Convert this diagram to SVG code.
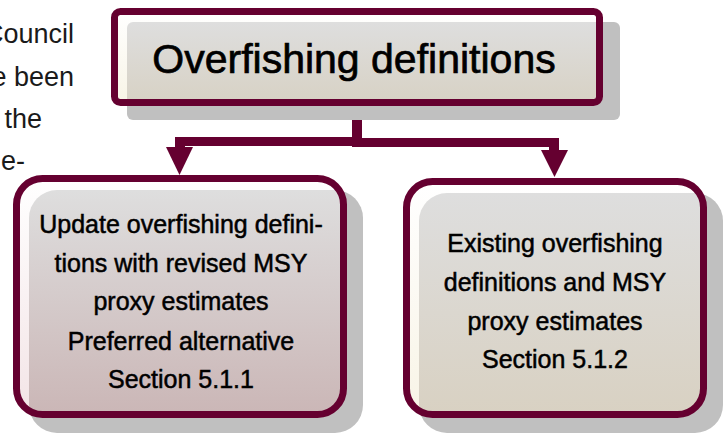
<svg xmlns="http://www.w3.org/2000/svg" width="725" height="434" viewBox="0 0 725 434">
<style>
.border{fill:none;stroke:#650030;stroke-width:7}
.shadow{fill:#c0c0c0}
.t{font-family:"Liberation Sans",Arial,sans-serif;fill:#000;stroke:#000;stroke-width:0.5;text-anchor:middle}
.big{font-size:41px;stroke-width:0.7}
.lbl{font-size:25px}
.bg{font-family:"Liberation Sans",Arial,sans-serif;font-size:27px;fill:#1a1a1a;text-anchor:end}
.conn{fill:#650030}
</style>
<defs>
<linearGradient id="gTop" x1="0" y1="0" x2="0" y2="1">
<stop offset="0" stop-color="#dedede"/><stop offset="1" stop-color="#d6cfbf"/>
</linearGradient>
<linearGradient id="gLeft" x1="0" y1="0" x2="0" y2="1">
<stop offset="0" stop-color="#dedede"/><stop offset="1" stop-color="#c9b3b3"/>
</linearGradient>
<linearGradient id="gRight" x1="0" y1="0" x2="0" y2="1">
<stop offset="0" stop-color="#dedede"/><stop offset="1" stop-color="#d8d0c0"/>
</linearGradient>
<linearGradient id="gEdgeTop" x1="0" y1="0" x2="0" y2="1">
<stop offset="0" stop-color="#ffffff"/><stop offset="1" stop-color="#f8f4e6"/>
</linearGradient>
<linearGradient id="gEdgeLeft" x1="0" y1="0" x2="0" y2="1">
<stop offset="0" stop-color="#ffffff"/><stop offset="1" stop-color="#f3e4e6"/>
</linearGradient>
<clipPath id="cTop"><rect x="114.5" y="11.5" width="485" height="91" rx="6"/></clipPath>
<clipPath id="cLeft"><rect x="16.5" y="178.5" width="327" height="236" rx="26"/></clipPath>
<clipPath id="cRight"><rect x="406.5" y="181.5" width="297" height="233" rx="26"/></clipPath>
</defs>

<g id="background-text">
<text class="bg" x="74" y="43">Council</text>
<text class="bg" x="74" y="86">e been</text>
<text class="bg" x="42" y="128">the</text>
<text class="bg" x="25" y="170">e-</text>
</g>

<g id="connectors">
<rect class="conn" x="352" y="102" width="10" height="44"/>
<rect class="conn" x="175" y="137" width="187" height="9"/>
<rect class="conn" x="352" y="138" width="207" height="9"/>
<rect class="conn" x="175" y="137" width="10" height="12"/>
<polygon class="conn" points="166,147 193,147 179.5,175"/>
<rect class="conn" x="549" y="138" width="10" height="14"/>
<polygon class="conn" points="541,150 568,150 554.5,177"/>
</g>

<g id="node-top">
<rect class="shadow" x="127" y="22" width="493" height="98" rx="6"/>
<rect x="114.5" y="11.5" width="485" height="91" rx="6" fill="url(#gEdgeTop)"/>
<rect x="127" y="22" width="493" height="98" rx="6" fill="url(#gTop)" clip-path="url(#cTop)"/>
<rect class="border" x="114.5" y="11.5" width="485" height="91" rx="6"/>
<text class="t big" x="354" y="73">Overfishing definitions</text>
</g>

<g id="node-left">
<rect class="shadow" x="29" y="190" width="334" height="243" rx="28"/>
<rect x="16.5" y="178.5" width="327" height="236" rx="26" fill="url(#gEdgeLeft)"/>
<rect x="29" y="190" width="334" height="243" rx="28" fill="url(#gLeft)" clip-path="url(#cLeft)"/>
<rect class="border" x="16.5" y="178.5" width="327" height="236" rx="26"/>
<text class="t lbl" x="181" y="233">Update overfishing defini-</text>
<text class="t lbl" x="181" y="272">tions with revised MSY</text>
<text class="t lbl" x="181" y="310">proxy estimates</text>
<text class="t lbl" x="181" y="350">Preferred alternative</text>
<text class="t lbl" x="181" y="388">Section 5.1.1</text>
</g>

<g id="node-right">
<rect class="shadow" x="419" y="193" width="304" height="240" rx="28"/>
<rect x="406.5" y="181.5" width="297" height="233" rx="26" fill="url(#gEdgeTop)"/>
<rect x="419" y="193" width="304" height="240" rx="28" fill="url(#gRight)" clip-path="url(#cRight)"/>
<rect class="border" x="406.5" y="181.5" width="297" height="233" rx="26"/>
<text class="t lbl" x="555" y="252">Existing overfishing</text>
<text class="t lbl" x="555" y="291">definitions and MSY</text>
<text class="t lbl" x="555" y="330">proxy estimates</text>
<text class="t lbl" x="555" y="368">Section 5.1.2</text>
</g>
</svg>
